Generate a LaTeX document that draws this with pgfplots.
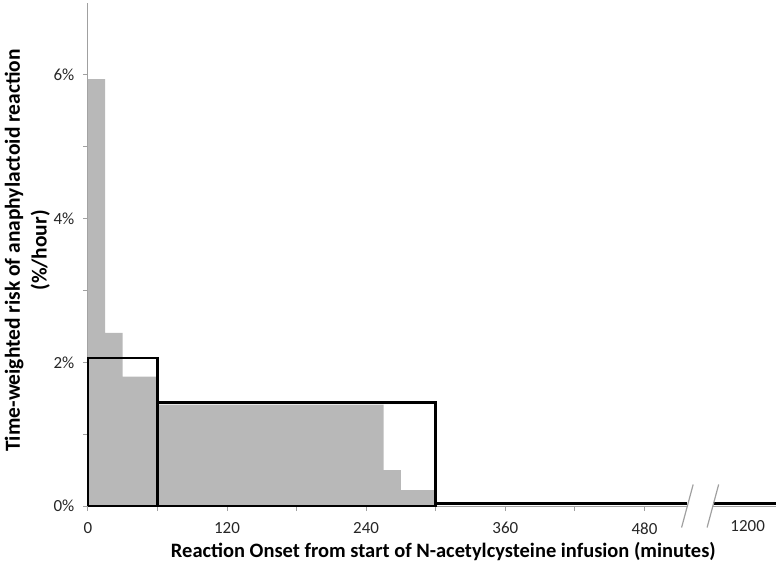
\documentclass[border=0pt]{standalone}
\usepackage{pgfplots}
\pgfplotsset{compat=1.18}
\usepackage{fontspec}
\setmainfont{Carlito}
\definecolor{barg}{HTML}{B8B8B8}
\definecolor{axg}{HTML}{A0A0A0}
\begin{document}
\begin{tikzpicture}
\begin{axis}[
  scale only axis, width=689pt, height=504pt,
  xmin=0, xmax=593, ymin=0, ymax=7,
  axis x line=bottom, axis y line=left,
  axis line style={draw=axg, line width=0.8pt, -},
  clip=false,
  xtick={0,120,240,360,480}, xticklabels={0,120,240,360,480},
  minor xtick={60,180,300,420},
  extra x ticks={569}, extra x tick labels={1200},
  extra x tick style={major tick length=0pt},
  ytick={0,2,4,6}, yticklabels={0\%,2\%,4\%,6\%},
  minor ytick={1,3,5},
  tick align=outside,
  major tick length=5pt, minor tick length=5pt,
  tick style={draw=axg, line width=0.8pt},
  tick label style={font=\fontsize{17}{20}\selectfont, text=black!85},
  xticklabel style={yshift=-8pt},
  extra x tick style={xticklabel style={yshift=-3pt}},
  yticklabel style={xshift=-5pt},
  xlabel={Reaction Onset from start of N-acetylcysteine infusion (minutes)},
  xlabel style={font=\fontsize{20.5}{24}\selectfont\bfseries, at={(axis description cs:0.517,-0.09)}, anchor=center},
  ylabel={Time-weighted risk of anaphylactoid reaction\\(\%/hour)},
  ylabel style={font=\fontsize{21.5}{27}\selectfont\bfseries, align=center, at={(axis description cs:-0.088,0.508)}, anchor=center},
]
\addplot[draw=none, fill=barg, const plot] coordinates {
 (0,5.94) (15,2.41) (30,1.80) (60,1.41) (255,0.50) (270,0.22) (300,0.22)} \closedcycle;
\addplot[black, line width=2.6pt, line join=miter, mark=none] coordinates {
 (0,0) (0,2.06) (60,2.06) (60,0) (0,0)};
\addplot[black, line width=2.6pt, line join=miter, mark=none] coordinates {
 (60,0) (60,1.44) (300,1.44) (300,0) (60,0)};
\addplot[black, line width=3pt, mark=none] coordinates {(300,0.03) (517,0.03)};
\addplot[black, line width=3pt, mark=none] coordinates {(539,0.03) (593,0.03)};
\fill[white] (axis cs:517,-0.08) rectangle (axis cs:539,0.12);
\draw[axg, line width=1.2pt] (axis cs:512,-0.3) -- (axis cs:522,0.3);
\draw[axg, line width=1.2pt] (axis cs:534,-0.3) -- (axis cs:544,0.3);
\end{axis}
\path ([shift={(-88pt,-60pt)}]current axis.south west) rectangle ([shift={(0pt,3pt)}]current axis.north east);
\end{tikzpicture}
\end{document}
